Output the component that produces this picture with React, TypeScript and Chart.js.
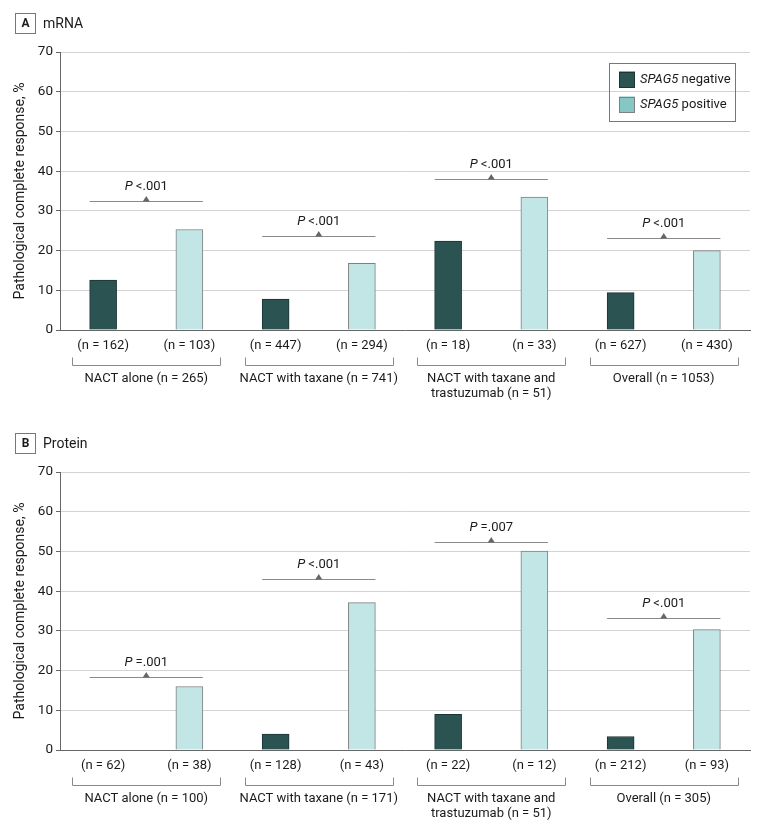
import React, { useEffect, useRef } from 'react';
import { Chart, registerables } from 'chart.js';

Chart.register(...registerables);

const FONT = 'Roboto, "Liberation Sans", sans-serif';
const TEXT = '#1a1a1a';
const AXIS = '#666666';
const GRID = '#d3d3d3';
const DARK = '#2a5352';
const DARK_BORDER = '#1b3534';
const LIGHT = '#c1e6e5';
const LIGHT_BORDER = '#7f7f7f';
const LEGEND_LIGHT = '#86c6c4';
const LINE = '#8a8a8a';
const TRI = '#666666';

const seriesNames = ['SPAG5 negative', 'SPAG5 positive'];
const yTitle = 'Pathological complete response, %';
const yTicks = [0, 10, 20, 30, 40, 50, 60, 70];

// Panel A – mRNA
const mrnaNegative = [12.6, 7.8, 22.4, 9.4];
const mrnaPositive = [25.3, 16.8, 33.5, 20.0];
const mrnaN = ['(n = 162)', '(n = 103)', '(n = 447)', '(n = 294)', '(n = 18)', '(n = 33)', '(n = 627)', '(n = 430)'];
const mrnaGroups = [
  ['NACT alone (n = 265)'],
  ['NACT with taxane (n = 741)'],
  ['NACT with taxane and', 'trastuzumab (n = 51)'],
  ['Overall (n = 1053)'],
];
const mrnaPText = ['<.001', '<.001', '<.001', '<.001'];
const mrnaPLevel = [32.6, 23.6, 38.0, 23.1];

// Panel B – Protein
const proteinNegative = [0, 4.0, 9.0, 3.4];
const proteinPositive = [16.0, 37.1, 50.1, 30.3];
const proteinN = ['(n = 62)', '(n = 38)', '(n = 128)', '(n = 43)', '(n = 22)', '(n = 12)', '(n = 212)', '(n = 93)'];
const proteinGroups = [
  ['NACT alone (n = 100)'],
  ['NACT with taxane (n = 171)'],
  ['NACT with taxane and', 'trastuzumab (n = 51)'],
  ['Overall (n = 305)'],
];
const proteinPText = ['=.001', '<.001', '=.007', '<.001'];
const proteinPLevel = [18.3, 43.1, 52.4, 33.3];

type Panel = {
  letter: string;
  title: string;
  neg: number[];
  pos: number[];
  nLabels: string[];
  groups: string[][];
  pText: string[];
  pLevel: number[];
  legend: boolean;
};

const panelA: Panel = {
  letter: 'A', title: 'mRNA', neg: mrnaNegative, pos: mrnaPositive, nLabels: mrnaN,
  groups: mrnaGroups, pText: mrnaPText, pLevel: mrnaPLevel, legend: true,
};
const panelB: Panel = {
  letter: 'B', title: 'Protein', neg: proteinNegative, pos: proteinPositive, nLabels: proteinN,
  groups: proteinGroups, pText: proteinPText, pLevel: proteinPLevel, legend: false,
};

const px = (v: number) => Math.round(v) + 0.5;

function makePlugin(panel: Panel) {
  return {
    id: 'annot' + panel.letter,
    afterDraw(chart: any) {
      const { ctx, chartArea } = chart;
      const xs = chart.scales.x;
      const ys = chart.scales.y;
      const m0 = chart.getDatasetMeta(0);
      const m1 = chart.getDatasetMeta(1);
      ctx.save();

      // panel title
      ctx.strokeStyle = '#777';
      ctx.lineWidth = 1;
      ctx.strokeRect(15.5, 13.5, 20, 20);
      ctx.fillStyle = TEXT;
      ctx.textBaseline = 'middle';
      ctx.textAlign = 'center';
      ctx.font = `bold 12px ${FONT}`;
      ctx.fillText(panel.letter, 25.5, 24);
      ctx.textAlign = 'left';
      ctx.font = `14px ${FONT}`;
      ctx.fillText(panel.title, 43, 24);

      // n labels
      ctx.font = `13px ${FONT}`;
      ctx.textAlign = 'center';
      panel.nLabels.forEach((t, i) => {
        ctx.fillText(t, xs.getPixelForValue(i), chartArea.bottom + 15.5);
      });

      const catW = xs.getPixelForValue(1) - xs.getPixelForValue(0);
      panel.groups.forEach((lines, g) => {
        const cx = (xs.getPixelForValue(2 * g) + xs.getPixelForValue(2 * g + 1)) / 2;
        const hw = catW * 0.86;
        const y0 = px(chartArea.bottom + 27);
        const y1 = px(chartArea.bottom + 35);
        ctx.strokeStyle = LINE;
        ctx.lineWidth = 1;
        ctx.beginPath();
        ctx.moveTo(px(cx - hw), y0);
        ctx.lineTo(px(cx - hw), y1);
        ctx.lineTo(px(cx + hw), y1);
        ctx.lineTo(px(cx + hw), y0);
        ctx.stroke();
        ctx.fillStyle = TEXT;
        ctx.font = `13px ${FONT}`;
        ctx.textAlign = 'center';
        lines.forEach((l, k) => ctx.fillText(l, cx, chartArea.bottom + 48.5 + k * 15.5));

        // P-value line
        const lb = m0.data[2 * g];
        const rb = m1.data[2 * g + 1];
        const xl = lb.x - lb.width / 2;
        const xr = rb.x + rb.width / 2;
        const yl = px(ys.getPixelForValue(panel.pLevel[g]));
        const mid = (xl + xr) / 2;
        ctx.strokeStyle = LINE;
        ctx.beginPath();
        ctx.moveTo(xl, yl);
        ctx.lineTo(xr, yl);
        ctx.stroke();
        ctx.fillStyle = TRI;
        ctx.beginPath();
        ctx.moveTo(mid - 3.5, yl);
        ctx.lineTo(mid + 3.5, yl);
        ctx.lineTo(mid, yl - 5.5);
        ctx.closePath();
        ctx.fill();

        ctx.fillStyle = TEXT;
        ctx.textAlign = 'left';
        ctx.font = `italic 13px ${FONT}`;
        const wP = ctx.measureText('P').width;
        ctx.font = `13px ${FONT}`;
        const rest = ' ' + panel.pText[g];
        const wR = ctx.measureText(rest).width;
        const start = mid - (wP + wR) / 2;
        ctx.font = `italic 13px ${FONT}`;
        ctx.fillText('P', start, yl - 15);
        ctx.font = `13px ${FONT}`;
        ctx.fillText(rest, start + wP, yl - 15);
      });

      // legend
      if (panel.legend) {
        const bx = chartArea.right - 141;
        const by = chartArea.top + 10.5;
        ctx.strokeStyle = '#777';
        ctx.lineWidth = 1;
        ctx.strokeRect(px(bx), px(by), 126, 58);
        const items = [
          { fill: DARK, border: DARK_BORDER },
          { fill: LEGEND_LIGHT, border: LIGHT_BORDER },
        ];
        items.forEach((it, k) => {
          const sy = by + 9 + k * 25;
          ctx.fillStyle = it.fill;
          ctx.fillRect(bx + 10, sy, 16, 16);
          ctx.strokeStyle = it.border;
          ctx.strokeRect(px(bx + 10), px(sy), 15, 15);
          const name = seriesNames[k];
          const sp = name.indexOf(' ');
          const ital = name.slice(0, sp);
          const rest = name.slice(sp);
          ctx.fillStyle = TEXT;
          ctx.textAlign = 'left';
          ctx.font = `italic 13px ${FONT}`;
          ctx.fillText(ital, bx + 31, sy + 8.5);
          const w = ctx.measureText(ital).width;
          ctx.font = `13px ${FONT}`;
          ctx.fillText(rest, bx + 31 + w, sy + 8.5);
        });
      }
      ctx.restore();
    },
  };
}

function PanelChart({ panel, top, height }: { panel: Panel; top: number; height: number }) {
  const ref = useRef<HTMLCanvasElement>(null);
  useEffect(() => {
    const canvas = ref.current;
    if (!canvas) return;
    const negData: (number | null)[] = [];
    const posData: (number | null)[] = [];
    panel.neg.forEach((v, g) => {
      negData.push(v, null);
      posData.push(null, panel.pos[g]);
    });
    const chart = new Chart(canvas, {
      type: 'bar',
      data: {
        labels: panel.nLabels,
        datasets: [
          {
            label: seriesNames[0], data: negData, backgroundColor: DARK, borderColor: DARK_BORDER,
            borderWidth: 1, barThickness: 27, skipNull: true,
          } as any,
          {
            label: seriesNames[1], data: posData, backgroundColor: LIGHT, borderColor: LIGHT_BORDER,
            borderWidth: 1, barThickness: 27, skipNull: true,
          } as any,
        ],
      },
      options: {
        responsive: false,
        animation: false,
        layout: { padding: { left: 0, top: 52, right: 30, bottom: 0 } },
        plugins: { legend: { display: false }, tooltip: { enabled: false } },
        scales: {
          x: {
            type: 'category',
            offset: true,
            grid: { display: false, drawTicks: false },
            ticks: { display: false },
            border: { display: true, color: AXIS, width: 1 },
            afterFit: (s: any) => { s.height = height - 330; },
          },
          y: {
            min: 0,
            max: 70,
            afterBuildTicks: (s: any) => { s.ticks = yTicks.map((v) => ({ value: v })); },
            ticks: { color: TEXT, font: { family: FONT, size: 13.5 }, padding: 3 },
            grid: { color: GRID, tickColor: AXIS, tickLength: 4, lineWidth: 1 },
            border: { display: true, color: AXIS, width: 1 },
            title: {
              display: true, text: yTitle, color: TEXT,
              font: { family: FONT, size: 14 }, padding: { top: 12.5, bottom: 0 },
            },
            afterFit: (s: any) => { s.width = 60; },
          },
        },
      } as any,
      plugins: [makePlugin(panel)],
    });
    return () => chart.destroy();
  }, [panel, height]);
  return (
    <canvas
      ref={ref}
      width={780}
      height={height}
      style={{ position: 'absolute', left: 0, top, width: 780, height, display: 'block' }}
    />
  );
}

export default function App() {
  return (
    <div style={{ position: 'absolute', left: 0, top: 0, width: 780, height: 834, background: '#fff', overflow: 'hidden' }}>
      <PanelChart panel={panelA} top={0} height={420} />
      <PanelChart panel={panelB} top={420} height={414} />
    </div>
  );
}
